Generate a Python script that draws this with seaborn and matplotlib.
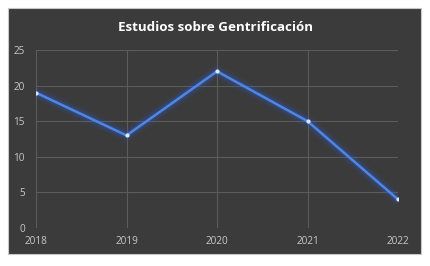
import matplotlib
matplotlib.use("Agg")
import matplotlib.pyplot as plt
import matplotlib.patches as mpatches
import seaborn as sns
import pandas as pd

years = ["2018", "2019", "2020", "2021", "2022"]
estudios = [19, 13, 22, 15, 4]
y_ticks = [0, 5, 10, 15, 20, 25]

df = pd.DataFrame({"Año": range(len(years)), "Estudios": estudios})

sns.set_style("dark")
plt.rcParams["font.family"] = ["Open Sans", "DejaVu Sans"]

fig = plt.figure(figsize=(4.30, 2.66), dpi=100, facecolor="white")
# dark chart panel like the excel chart area
panel = mpatches.Rectangle((0.019, 0.045), 0.960, 0.925, transform=fig.transFigure,
                           facecolor="#3b3b3b", edgecolor="#c8c8c8", linewidth=0.8, zorder=-5)
fig.patches.append(panel)

ax = fig.add_axes([0.0837, 0.143, 0.842, 0.669])
ax.set_facecolor("none")

# glow under the line
for lw, a in [(10, 0.05), (8, 0.07), (6, 0.1), (4, 0.18)]:
    sns.lineplot(data=df, x="Año", y="Estudios", ax=ax, color="#2f5fd0",
                 linewidth=lw, alpha=a, solid_capstyle="round")
sns.lineplot(data=df, x="Año", y="Estudios", ax=ax, color="#4f86e6", linewidth=1.8,
             marker="o", markersize=3, markerfacecolor="#dce8ff", markeredgewidth=0)

ax.set_xlim(0, len(years) - 1)
ax.set_ylim(0, 25)
ax.set_xticks(range(len(years)))
ax.set_xticklabels(years)
ax.set_yticks(y_ticks)
ax.grid(True, color="#5c5c5c", linewidth=0.8)
ax.set_axisbelow(True)
for s in ax.spines.values():
    s.set_visible(False)
ax.tick_params(colors="#c8c8c8", labelsize=7.2, length=0)
ax.tick_params(axis="x", pad=6)
ax.tick_params(axis="y", pad=8)
ax.set_xlabel("")
ax.set_ylabel("")

fig.text(0.5, 0.895, "Estudios sobre Gentrificación", ha="center", va="center",
         color="white", fontsize=9.6, fontweight="bold")

fig.savefig("out.png", dpi=100, facecolor="white")
